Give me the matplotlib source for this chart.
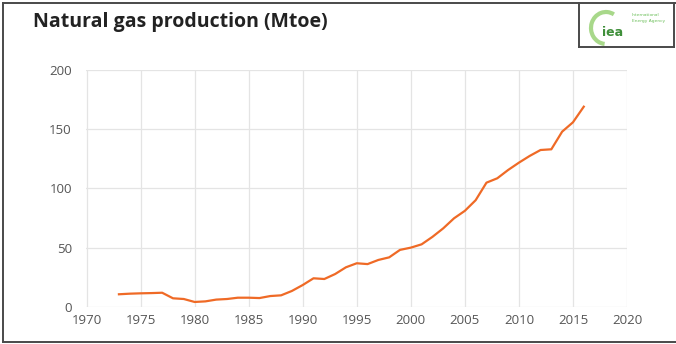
import matplotlib
matplotlib.use("Agg")
import matplotlib.pyplot as plt
from matplotlib.patches import Arc
from matplotlib.lines import Line2D

years = list(range(1973, 2017))
production = [10.5, 11.0, 11.3, 11.5, 11.8, 7.1, 6.5, 4.0, 4.5, 6.0,
              6.5, 7.6, 7.6, 7.3, 9.0, 9.6, 13.3, 18.3, 24.0, 23.4,
              27.6, 33.3, 36.7, 36.0, 39.5, 41.7, 48.0, 49.9, 52.7, 59.0,
              66.2, 74.7, 81.0, 90.0, 104.8, 108.5, 115.5, 121.7, 127.4, 132.4,
              133.0, 147.9, 155.8, 169.0]
x_ticks = [1970, 1975, 1980, 1985, 1990, 1995, 2000, 2005, 2010, 2015, 2020]
y_ticks = [0, 50, 100, 150, 200]
title = "Natural gas production (Mtoe)"

W, H = 676, 344
fig = plt.figure(figsize=(W / 100, H / 100), dpi=100)
fig.patch.set_facecolor("white")

def fx(px):
    return px / W

def fy(py):
    return 1 - py / H

ax = fig.add_axes([fx(86.5), fy(306.7), fx(627) - fx(86.5), fy(70) - fy(306.7)])
ax.plot(years, production, color="#ef6a26", linewidth=1.6, solid_joinstyle="round")
ax.set_xlim(1970, 2020)
ax.set_ylim(0, 200)
ax.set_xticks(x_ticks)
ax.set_yticks(y_ticks)
ax.grid(True, color="#e4e4e4", linewidth=0.9)
ax.set_axisbelow(True)
for s in ax.spines.values():
    s.set_visible(False)
ax.tick_params(length=0, labelsize=9.5, labelcolor="#555555")
ax.tick_params(axis="x", pad=5)
ax.tick_params(axis="y", pad=10.5)
for lab in ax.get_xticklabels() + ax.get_yticklabels():
    lab.set_fontfamily("Open Sans")

fig.text(fx(33), fy(27.3), title, fontsize=14, fontweight="bold",
         fontfamily="Open Sans", color="#222222", va="baseline", ha="left")

# outer frame
frame_c = "#4a4a4a"
fig.add_artist(Line2D([fx(3), fx(3)], [fy(3), fy(341.5)], color=frame_c, lw=1.4, transform=fig.transFigure))
fig.add_artist(Line2D([fx(3), fx(676)], [fy(3), fy(3)], color=frame_c, lw=1.4, transform=fig.transFigure))
fig.add_artist(Line2D([fx(3), fx(676)], [fy(341.5), fy(341.5)], color=frame_c, lw=1.4, transform=fig.transFigure))

# logo box
fig.add_artist(Line2D([fx(579), fx(579)], [fy(3), fy(46.5)], color=frame_c, lw=1.4, transform=fig.transFigure))
fig.add_artist(Line2D([fx(579), fx(674)], [fy(46.5), fy(46.5)], color=frame_c, lw=1.4, transform=fig.transFigure))
fig.add_artist(Line2D([fx(674), fx(674)], [fy(3), fy(46.5)], color=frame_c, lw=1.4, transform=fig.transFigure))

# logo crescent
lax = fig.add_axes([fx(579), fy(46.5), fx(674) - fx(579), fy(3) - fy(46.5)])
lax.set_xlim(579, 674)
lax.set_ylim(46.5, 3)
lax.axis("off")
lax.add_patch(Arc((606, 28), 30, 32, theta1=95, theta2=300, color="#a8d88a", lw=3.0))
lax.text(613, 33, "iea", fontsize=9, fontweight="bold", color="#3f8f3a",
         ha="center", va="center", fontfamily="DejaVu Sans")
lax.text(632, 15, "International", fontsize=3.2, color="#6cbf5a", ha="left", va="center")
lax.text(632, 21, "Energy Agency", fontsize=3.2, color="#6cbf5a", ha="left", va="center")

fig.savefig("out.png", dpi=100)
